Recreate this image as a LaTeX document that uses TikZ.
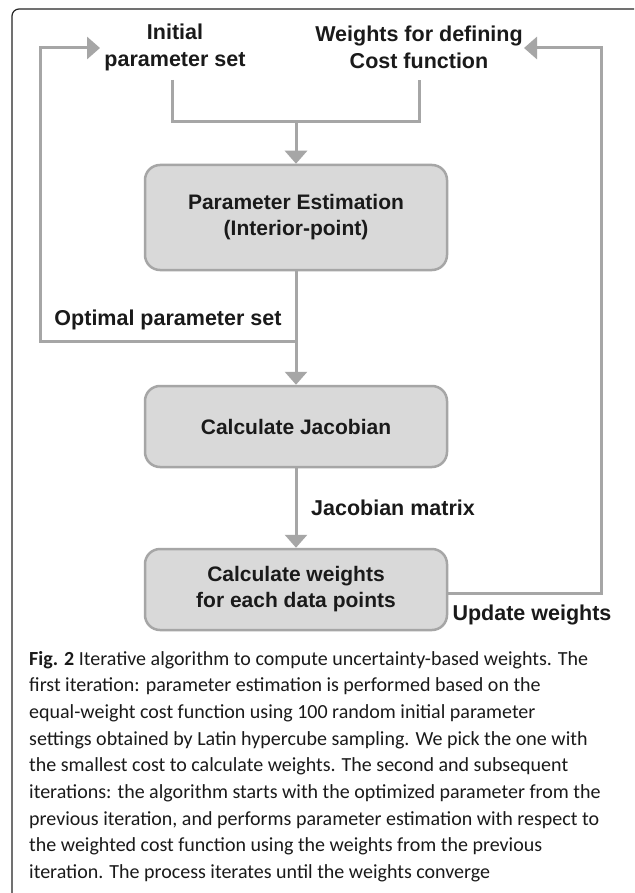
\documentclass[tikz,border=0pt]{standalone}
\usepackage{fontspec}
\setmainfont{Liberation Sans}
\newfontfamily\capfont{Carlito}
\usetikzlibrary{arrows.meta}
\definecolor{lg}{HTML}{A6A6A6}
\definecolor{bf}{HTML}{D9D9D9}
\definecolor{tx}{HTML}{1A1A1A}
\begin{document}
\begin{tikzpicture}[x=1pt,y=-1pt,
  gl/.style={draw=lg, line width=3pt},
  arr/.style={-{Triangle[length=13pt,width=22pt]}},
  box/.style={draw=lg, fill=bf, line width=2.5pt, rounded corners=15pt, minimum width=302pt, text=tx, font=\bfseries\fontsize{21}{26}\selectfont, align=center, inner sep=0pt},
  lbl/.style={text=tx, font=\bfseries\fontsize{21.5}{27}\selectfont, align=center, inner sep=0pt},
  captxt/.style={anchor=base west, inner sep=0pt, text=tx, font=\capfont\fontsize{20}{26.7}\selectfont}]
\useasboundingbox (0,0) rectangle (634,893);
\fill[white] (0,0) rectangle (634,893);
\draw[line width=1.2pt, color=black!85, rounded corners=7pt] (12,893) -- (12,9) -- (634,9);

\node[lbl] (init) at (175,47.5) {Initial\\parameter set};
\node[lbl] (wts) at (419,47.5) {Weights for defining\\Cost function};
\node[box, minimum height=105pt] (pe) at (296,217.5) {Parameter Estimation\\(Interior-point)};
\node[box, minimum height=81pt] (cj) at (296,426.5) {Calculate Jacobian};
\node[box, minimum height=81pt] (cw) at (296,589.5) {Calculate weights\\for each data points};
\node[lbl] (opt) at (168,320) {Optimal parameter set};
\node[lbl] (jm) at (393,508) {Jacobian matrix};
\node[lbl] (uw) at (532,615) {Update weights};

\coordinate (ia) at (172,80);
\coordinate (wa) at (419,80);
\coordinate (m) at (296,122);
\draw[gl] (ia) |- (m) -| (wa);
\draw[gl, arr] (m) -- (pe.north);
\draw[gl, arr] (pe.south) -- (cj.north);
\coordinate (j) at (296,341);
\coordinate (lb) at (40,341);
\coordinate (lt) at (40,48);
\coordinate (la) at (100,48);
\draw[gl, arr] (j) -- (lb) -- (lt) -- (la);
\draw[gl, arr] (cj.south) -- (cw.north);
\coordinate (ub) at (601,593);
\coordinate (ut) at (601,48);
\coordinate (ua) at (524,48);
\draw[gl, arr] (cw.east |- ub) -- (ub) -- (ut) -- (ua);

\node[captxt] (c1) at (29,665) {\textbf{Fig. 2} Iterative algorithm to compute uncertainty-based weights. The};
\node[captxt] (c2) at (29,691.7) {first iteration: parameter estimation is performed based on the};
\node[captxt] (c3) at (29,718.4) {equal-weight cost function using 100 random initial parameter};
\node[captxt] (c4) at (29,745.1) {settings obtained by Latin hypercube sampling. We pick the one with};
\node[captxt] (c5) at (29,771.8) {the smallest cost to calculate weights. The second and subsequent};
\node[captxt] (c6) at (29,798.5) {iterations: the algorithm starts with the optimized parameter from the};
\node[captxt] (c7) at (29,825.2) {previous iteration, and performs parameter estimation with respect to};
\node[captxt] (c8) at (29,851.9) {the weighted cost function using the weights from the previous};
\node[captxt] (c9) at (29,878.6) {iteration. The process iterates until the weights converge};
\end{tikzpicture}
\end{document}
